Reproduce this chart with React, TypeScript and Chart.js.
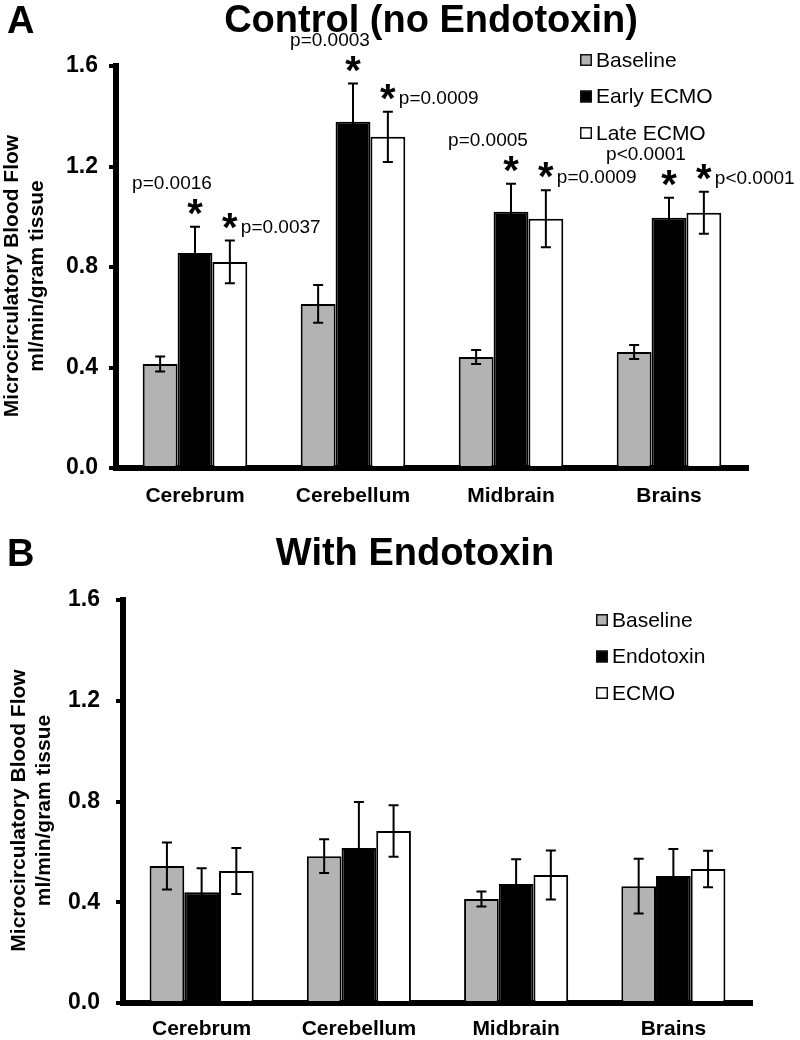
import React, { useEffect, useRef } from "react";
import { Chart, registerables } from "chart.js";

Chart.register(...registerables);

const FONT = '"Liberation Sans", Arial, Helvetica, sans-serif';

// ---------- data ----------
const categories = ["Cerebrum", "Cerebellum", "Midbrain", "Brains"];
const yTicks = [0, 0.4, 0.8, 1.2, 1.6];

const controlTitle = "Control (no Endotoxin)";
const controlLabels = ["Baseline", "Early ECMO", "Late ECMO"];
const controlBaseline = [0.414, 0.653, 0.442, 0.462];
const controlBaselineErr = [0.03, 0.075, 0.028, 0.028];
const controlEarly = [0.856, 1.378, 1.02, 0.996];
const controlEarlyErr = [0.104, 0.152, 0.111, 0.08];
const controlLate = [0.82, 1.318, 0.992, 1.016];
const controlLateErr = [0.085, 0.1, 0.113, 0.084];
const controlEarlyP = ["p=0.0016", "p=0.0003", "p=0.0005", "p<0.0001"];
const controlLateP = ["p=0.0037", "p=0.0009", "p=0.0009", "p<0.0001"];

const endoTitle = "With Endotoxin";
const endoLabels = ["Baseline", "Endotoxin", "ECMO"];
const endoBaseline = [0.544, 0.583, 0.413, 0.464];
const endoBaselineErr = [0.093, 0.067, 0.03, 0.109];
const endoEndotoxin = [0.44, 0.615, 0.472, 0.504];
const endoEndotoxinErr = [0.095, 0.183, 0.099, 0.107];
const endoEcmo = [0.524, 0.683, 0.508, 0.532];
const endoEcmoErr = [0.091, 0.102, 0.097, 0.072];

const yTitleLines = ["Microcirculatory Blood Flow", "ml/min/gram tissue"];

// ---------- styles ----------
const barColors = ["#b3b3b3", "#000000", "#ffffff"];

type PanelCfg = {
  top: number;
  letter: string;
  title: string;
  titleX: number;
  titleY: number;
  letterY: number;
  labels: string[];
  values: number[][];
  errors: number[][];
  pvals: (string[] | null)[];
  yWidth: number;
  xHeight: number;
  padTop: number;
  padRight: number;
  yPad: number;
  xPad: number;
  legendX: number;
  legendY: number;
};

const panels: PanelCfg[] = [
  {
    top: 0,
    letter: "A",
    title: controlTitle,
    titleX: 431,
    titleY: 32,
    letterY: 33,
    labels: controlLabels,
    values: [controlBaseline, controlEarly, controlLate],
    errors: [controlBaselineErr, controlEarlyErr, controlLateErr],
    pvals: [null, controlEarlyP, controlLateP],
    yWidth: 116,
    xHeight: 52,
    padTop: 66,
    padRight: 52,
    yPad: 11,
    xPad: 16,
    legendX: 580,
    legendY: 60,
  },
  {
    top: 520,
    letter: "B",
    title: endoTitle,
    titleX: 415,
    titleY: 45,
    letterY: 46,
    labels: endoLabels,
    values: [endoBaseline, endoEndotoxin, endoEcmo],
    errors: [endoBaselineErr, endoEndotoxinErr, endoEcmoErr],
    pvals: [null, null, null],
    yWidth: 123,
    xHeight: 37,
    padTop: 80,
    padRight: 48,
    yPad: 16,
    xPad: 14,
    legendX: 596,
    legendY: 100,
  },
];

function drawStar(ctx: CanvasRenderingContext2D, cx: number, cy: number) {
  ctx.font = `bold 40px ${FONT}`;
  ctx.textAlign = "center";
  ctx.textBaseline = "alphabetic";
  const m = ctx.measureText("*");
  const asc = m.actualBoundingBoxAscent;
  const desc = m.actualBoundingBoxDescent;
  ctx.fillText("*", cx, cy + (asc - desc) / 2);
}

function makeOverlay(cfg: PanelCfg) {
  return {
    id: "overlay",
    afterDatasetsDraw(chart: any) {
      const ctx: CanvasRenderingContext2D = chart.ctx;
      const ys = chart.scales.y;
      ctx.save();
      ctx.strokeStyle = "#000";
      ctx.fillStyle = "#000";
      ctx.lineWidth = 2;
      chart.data.datasets.forEach((ds: any, di: number) => {
        const meta = chart.getDatasetMeta(di);
        const errs = cfg.errors[di];
        meta.data.forEach((el: any, i: number) => {
          const v = ds.data[i];
          const e = errs[i];
          const x = el.x;
          const yt = ys.getPixelForValue(v + e);
          const yb = ys.getPixelForValue(v - e);
          ctx.beginPath();
          ctx.moveTo(x, yt);
          ctx.lineTo(x, yb);
          ctx.moveTo(x - 5, yt);
          ctx.lineTo(x + 5, yt);
          ctx.moveTo(x - 5, yb);
          ctx.lineTo(x + 5, yb);
          ctx.stroke();

          const p = cfg.pvals[di];
          if (p) {
            const sy = yt - 20;
            drawStar(ctx, x, sy);
            ctx.font = `19px ${FONT}`;
            ctx.textBaseline = "middle";
            if (di === 1) {
              ctx.textAlign = "center";
              ctx.fillText(p[i], x - 23, sy - 23);
            } else {
              ctx.textAlign = "left";
              ctx.fillText(p[i], x + 11, sy + 7);
            }
          }
        });
      });
      ctx.restore();
    },
    afterDraw(chart: any) {
      const ctx: CanvasRenderingContext2D = chart.ctx;
      const area = chart.chartArea;
      ctx.save();
      ctx.fillStyle = "#000";
      // panel letter
      ctx.font = `bold 38px ${FONT}`;
      ctx.textAlign = "left";
      ctx.textBaseline = "alphabetic";
      ctx.fillText(cfg.letter, 7, cfg.letterY);
      // title
      ctx.textAlign = "center";
      ctx.fillText(cfg.title, cfg.titleX, cfg.titleY);
      // y axis title
      ctx.font = `bold 21px ${FONT}`;
      const cy = (area.top + area.bottom) / 2 + 9;
      const bases = [area.left - 98, area.left - 73];
      yTitleLines.forEach((t, k) => {
        ctx.save();
        ctx.translate(bases[k], cy);
        ctx.rotate(-Math.PI / 2);
        ctx.textAlign = "center";
        ctx.textBaseline = "alphabetic";
        ctx.fillText(t, 0, 0);
        ctx.restore();
      });
      // legend
      ctx.font = `21px ${FONT}`;
      ctx.textBaseline = "middle";
      ctx.textAlign = "left";
      chart.data.datasets.forEach((ds: any, di: number) => {
        const y = cfg.legendY + di * 36.5;
        ctx.fillStyle = ds.backgroundColor;
        ctx.fillRect(cfg.legendX, y - 6, 12, 12);
        ctx.strokeStyle = "#111";
        ctx.lineWidth = 1.5;
        ctx.strokeRect(cfg.legendX + 0.75, y - 5.25, 10.5, 10.5);
        ctx.fillStyle = "#000";
        ctx.fillText(ds.label, cfg.legendX + 16, y + 1);
      });
      ctx.restore();
    },
  };
}

function Panel({ cfg }: { cfg: PanelCfg }) {
  const ref = useRef<HTMLCanvasElement>(null);
  useEffect(() => {
    const canvas = ref.current!;
    const chart = new Chart(canvas, {
      type: "bar",
      data: {
        labels: categories,
        datasets: cfg.labels.map((lab, i) => ({
          label: lab,
          data: cfg.values[i],
          backgroundColor: barColors[i],
          borderColor: "#000",
          borderWidth: 2,
          categoryPercentage: 0.662,
          barPercentage: 1,
        })),
      },
      options: {
        responsive: false,
        animation: false,
        devicePixelRatio: 1,
        layout: {
          padding: { left: 0, right: cfg.padRight, top: cfg.padTop, bottom: 0 },
        },
        plugins: {
          legend: { display: false },
          tooltip: { enabled: false },
          title: { display: false },
        },
        scales: {
          x: {
            type: "category",
            offset: true,
            grid: { display: false, drawTicks: false },
            border: { display: true, color: "#000", width: 6 },
            ticks: {
              color: "#000",
              font: { family: FONT, size: 21, weight: "bold" },
              padding: cfg.xPad,
              maxRotation: 0,
              autoSkip: false,
            },
            afterFit: (s: any) => {
              s.height = cfg.xHeight;
            },
          },
          y: {
            min: 0,
            max: 1.6,
            afterBuildTicks: (s: any) => {
              s.ticks = yTicks.map((v) => ({ value: v }));
            },
            grid: {
              display: true,
              drawOnChartArea: false,
              drawTicks: true,
              tickLength: 7,
              lineWidth: 4,
              color: "#000",
            },
            border: { display: true, color: "#000", width: 6 },
            ticks: {
              color: "#000",
              font: { family: FONT, size: 23, weight: "bold" },
              padding: cfg.yPad,
              callback: (v: any) => Number(v).toFixed(1),
            },
            afterFit: (s: any) => {
              s.width = cfg.yWidth;
            },
          },
        },
      } as any,
      plugins: [makeOverlay(cfg)],
    });
    return () => chart.destroy();
  }, [cfg]);
  return (
    <canvas
      ref={ref}
      width={800}
      height={520}
      style={{ position: "absolute", left: 0, top: cfg.top, width: 800, height: 520, display: "block" }}
    />
  );
}

export default function App() {
  return (
    <div style={{ position: "absolute", left: 0, top: 0, width: 800, height: 1040, background: "#fff" }}>
      {panels.map((p) => (
        <Panel key={p.letter} cfg={p} />
      ))}
    </div>
  );
}
